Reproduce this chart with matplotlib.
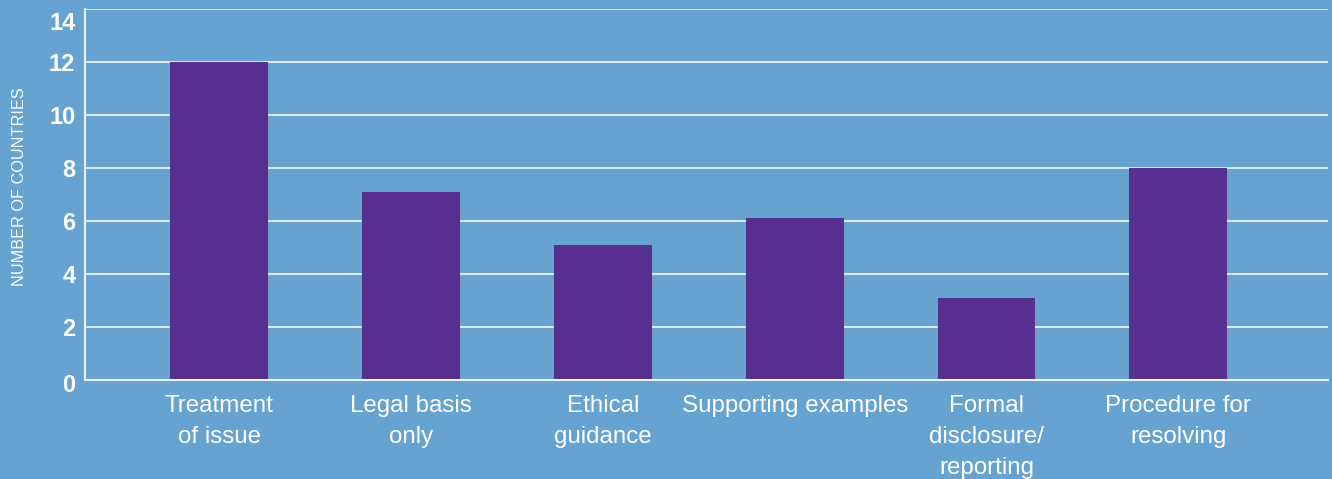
import matplotlib
matplotlib.use('Agg')
import matplotlib.pyplot as plt
from matplotlib.transforms import ScaledTranslation

categories = ['Treatment\nof issue', 'Legal basis\nonly', 'Ethical\nguidance',
              'Supporting examples', 'Formal\ndisclosure/\nreporting', 'Procedure for\nresolving']
values = [12, 7.1, 5.1, 6.1, 3.1, 8]
yticks = [0, 2, 4, 6, 8, 10, 12, 14]

bg = '#66a3d0'
bar_color = '#572f90'

plt.rcParams['font.family'] = ['Liberation Sans', 'DejaVu Sans']

fig = plt.figure(figsize=(13.32, 4.79), dpi=100, facecolor=bg)
ax = fig.add_axes([0.0638, 0.2067, 0.9332, 0.7743])
ax.set_facecolor(bg)

x = range(len(categories))
ax.bar(x, values, width=0.51, color=bar_color, zorder=3)

ax.set_ylim(0, 14)
ax.set_xlim(-0.7, 5.78)
ax.set_yticks(yticks)
ax.set_yticklabels([str(t) for t in yticks], fontsize=17, fontweight='bold', color='white')
ax.set_xticks(list(x))
ax.set_xticklabels(categories, fontsize=17.4, color='white', linespacing=1.52, va='top')
ax.tick_params(axis='both', length=0)
ax.tick_params(axis='y', pad=7)
ax.tick_params(axis='x', pad=11)

# top label sits a bit below its gridline, bottom one slightly low
yt = ax.yaxis.get_major_ticks()
yt[-1].label1.set_transform(yt[-1].label1.get_transform() + ScaledTranslation(0, -0.12, fig.dpi_scale_trans))
yt[0].label1.set_transform(yt[0].label1.get_transform() + ScaledTranslation(0, -0.03, fig.dpi_scale_trans))

ax.grid(axis='y', color='#e8f1f8', linewidth=1.3, zorder=1)
for s in ['top', 'right']:
    ax.spines[s].set_visible(False)
ax.spines['left'].set_color('#e8f1f8')
ax.spines['bottom'].set_color('#e8f1f8')
ax.spines['left'].set_linewidth(1.5)
ax.spines['bottom'].set_linewidth(1.5)
ax.spines['bottom'].set_zorder(4)

fig.text(0.0145, 0.61, 'NUMBER OF COUNTRIES', rotation=90, color='white',
         fontsize=11.7, ha='center', va='center')

plt.savefig('out.png', dpi=100, facecolor=bg)
